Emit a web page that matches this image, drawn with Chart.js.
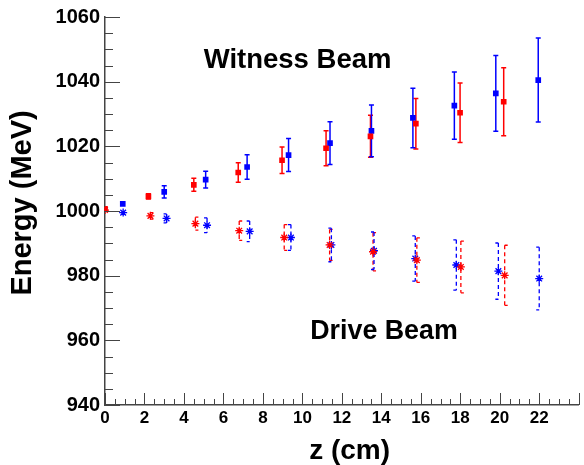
<!DOCTYPE html>
<html>
<head>
<meta charset="utf-8">
<script src="https://cdn.jsdelivr.net/npm/chart.js@4.4.1/dist/chart.umd.min.js"></script>
<style>
html,body{margin:0;padding:0;background:#fff;}
#c{display:block;}
</style>
</head>
<body>
<canvas id="c" width="584" height="465"></canvas>
<script>
// ---- data ----
const witnessRedZ   = [0, 2.2, 4.5, 6.75, 8.97, 11.2, 13.45, 15.75, 17.99, 20.2];
const witnessRedE   = [1000.7, 1004.5, 1008.1, 1011.9, 1015.7, 1019.4, 1023.1, 1027.0, 1030.4, 1033.8];
const witnessRedErr = [0.5, 0.8, 2.0, 3.0, 4.1, 5.4, 6.5, 7.8, 9.2, 10.5];

const witnessBlueZ   = [0.9, 3.0, 5.1, 7.2, 9.3, 11.4, 13.5, 15.6, 17.7, 19.8, 21.95];
const witnessBlueE   = [1002.2, 1005.9, 1009.7, 1013.6, 1017.3, 1021.0, 1024.8, 1028.8, 1032.6, 1036.4, 1040.5];
const witnessBlueErr = [0.6, 1.9, 2.6, 3.8, 5.1, 6.6, 8.0, 9.2, 10.4, 11.7, 13.0];

const driveRedZ   = [0, 2.3, 4.58, 6.8, 9.08, 11.38, 13.58, 15.8, 18.03, 20.25];
const driveRedE   = [1000.3, 998.5, 996.1, 993.9, 991.8, 989.5, 987.4, 984.8, 982.7, 980.1];
const driveRedErr = [0.3, 1.0, 2.0, 3.0, 4.0, 4.8, 5.9, 6.9, 8.0, 9.3];

const driveBlueZ   = [0.92, 3.12, 5.17, 7.33, 9.42, 11.47, 13.63, 15.72, 17.8, 19.93, 22.0];
const driveBlueE   = [999.5, 997.7, 995.6, 993.7, 991.8, 989.5, 987.7, 985.3, 983.3, 981.4, 979.1];
const driveBlueErr = [0.5, 1.4, 2.3, 3.2, 4.0, 5.2, 5.8, 7.0, 7.8, 8.7, 9.7];

const xTickValues = [0, 2, 4, 6, 8, 10, 12, 14, 16, 18, 20, 22];
const yTickValues = [940, 960, 980, 1000, 1020, 1040, 1060];

const annotations = [
  {text: 'Witness Beam', z: 5.0, e: 1044.2},
  {text: 'Drive Beam', z: 10.4, e: 960.5}
];

const RED = '#ff0000', BLUE = '#0000ff';
const FONT = '"Liberation Sans", Arial, Helvetica, sans-serif';

function pts(zs, es) { return zs.map((z, i) => ({x: z, y: es[i]})); }

function mk(label, zs, es, errs, color, style, dashed, capSide) {
  return {
    label, data: pts(zs, es), errs,
    backgroundColor: color, borderColor: color,
    pointStyle: style, pointRadius: style === 'rect' ? 4 : 4,
    pointBorderWidth: style === 'rect' ? 0 : 1.3,
    showLine: false,
    errDashed: dashed, capSide
  };
}

const errorBars = {
  id: 'errorBars',
  beforeDatasetsDraw(chart) {
    const {ctx, scales: {x, y}} = chart;
    ctx.save();
    chart.data.datasets.forEach(ds => {
      ctx.strokeStyle = ds.borderColor;
      ctx.lineWidth = ds.errDashed ? 1.3 : 1.5;
      ds.data.forEach((p, i) => {
        const e = ds.errs[i];
        const px = x.getPixelForValue(p.x);
        const yt = y.getPixelForValue(p.y + e);
        const yb = y.getPixelForValue(p.y - e);
        ctx.setLineDash(ds.errDashed ? [4, 3] : []);
        ctx.beginPath();
        ctx.moveTo(px, yt); ctx.lineTo(px, yb);
        ctx.stroke();
        ctx.setLineDash([]);
        if (yb - yt > 4) {
          let x0, x1;
          if (ds.capSide === 'left') { x0 = px - 3; x1 = px; }
          else if (ds.capSide === 'right') { x0 = px; x1 = px + 3; }
          else { x0 = px - 2.5; x1 = px + 2.5; }
          ctx.beginPath();
          ctx.moveTo(x0, yt); ctx.lineTo(x1, yt);
          ctx.moveTo(x0, yb); ctx.lineTo(x1, yb);
          ctx.stroke();
        }
      });
    });
    ctx.restore();
  }
};

const innerTicks = {
  id: 'innerTicks',
  afterDraw(chart) {
    const {ctx, scales: {x, y}, chartArea: a} = chart;
    ctx.save();
    ctx.strokeStyle = '#444';
    ctx.lineWidth = 1;
    for (let v = y.min; v <= y.max + 1e-9; v += 5) {
      const py = Math.round(y.getPixelForValue(v)) + 0.5;
      const len = (Math.round(v) % 20 === 0) ? 15 : 8;
      ctx.beginPath(); ctx.moveTo(a.left, py); ctx.lineTo(a.left + len, py); ctx.stroke();
    }
    for (let v = x.min; v <= x.max + 1e-9; v += 0.5) {
      const px = Math.round(x.getPixelForValue(v)) + 0.5;
      const len = (Math.abs(v / 2 - Math.round(v / 2)) < 1e-6) ? 12 : 6;
      ctx.beginPath(); ctx.moveTo(px, a.bottom); ctx.lineTo(px, a.bottom - len); ctx.stroke();
    }
    // annotations
    ctx.fillStyle = '#000';
    ctx.textBaseline = 'alphabetic';
    ctx.textAlign = 'left';
    annotations.forEach(t => {
      ctx.font = 'bold ' + (t.text === 'Witness Beam' ? 27.5 : 26.8) + 'px ' + FONT;
      ctx.fillText(t.text, x.getPixelForValue(t.z), y.getPixelForValue(t.e));
    });
    ctx.restore();
  }
};

new Chart(document.getElementById('c'), {
  type: 'scatter',
  data: {
    datasets: [
      mk('Witness (red)', witnessRedZ, witnessRedE, witnessRedErr, RED, 'rect', false, 'both'),
      mk('Witness (blue)', witnessBlueZ, witnessBlueE, witnessBlueErr, BLUE, 'rect', false, 'both'),
      mk('Drive (red)', driveRedZ, driveRedE, driveRedErr, RED, 'star', true, 'right'),
      mk('Drive (blue)', driveBlueZ, driveBlueE, driveBlueErr, BLUE, 'star', true, 'left')
    ]
  },
  options: {
    responsive: false,
    devicePixelRatio: 1,
    animation: false,
    layout: {padding: {top: 16, right: 0, left: 0, bottom: 0}},
    plugins: {legend: {display: false}, tooltip: {enabled: false}},
    scales: {
      x: {
        type: 'linear', min: 0, max: 24,
        afterBuildTicks(s) { s.ticks = xTickValues.map(v => ({value: v})); },
        afterFit(s) { s.height = 60; },
        grid: {display: false, drawTicks: false},
        border: {display: true, color: '#444', width: 1.5},
        ticks: {color: '#000', font: {family: FONT, size: 17, weight: 'bold'}, padding: 3, maxRotation: 0, autoSkip: false,
                callback: v => String(v)},
        title: {display: true, text: '  z (cm)', color: '#000', font: {family: FONT, size: 28, weight: 'bold', lineHeight: 0.9}, padding: {top: 0, bottom: 1}}
      },
      y: {
        type: 'linear', min: 940, max: 1060,
        afterBuildTicks(s) { s.ticks = yTickValues.map(v => ({value: v})); },
        afterFit(s) { s.width = 105; },
        grid: {display: false, drawTicks: false},
        border: {display: true, color: '#444', width: 1.5},
        ticks: {color: '#000', font: {family: FONT, size: 20, weight: 'bold'}, padding: 5, autoSkip: false,
                callback: v => String(v)},
        title: {display: true, text: '  Energy (MeV)', color: '#000', font: {family: FONT, size: 29, weight: 'bold', lineHeight: 1.2}, padding: {top: 6, bottom: 0}}
      }
    }
  },
  plugins: [errorBars, innerTicks]
});
</script>
</body>
</html>
